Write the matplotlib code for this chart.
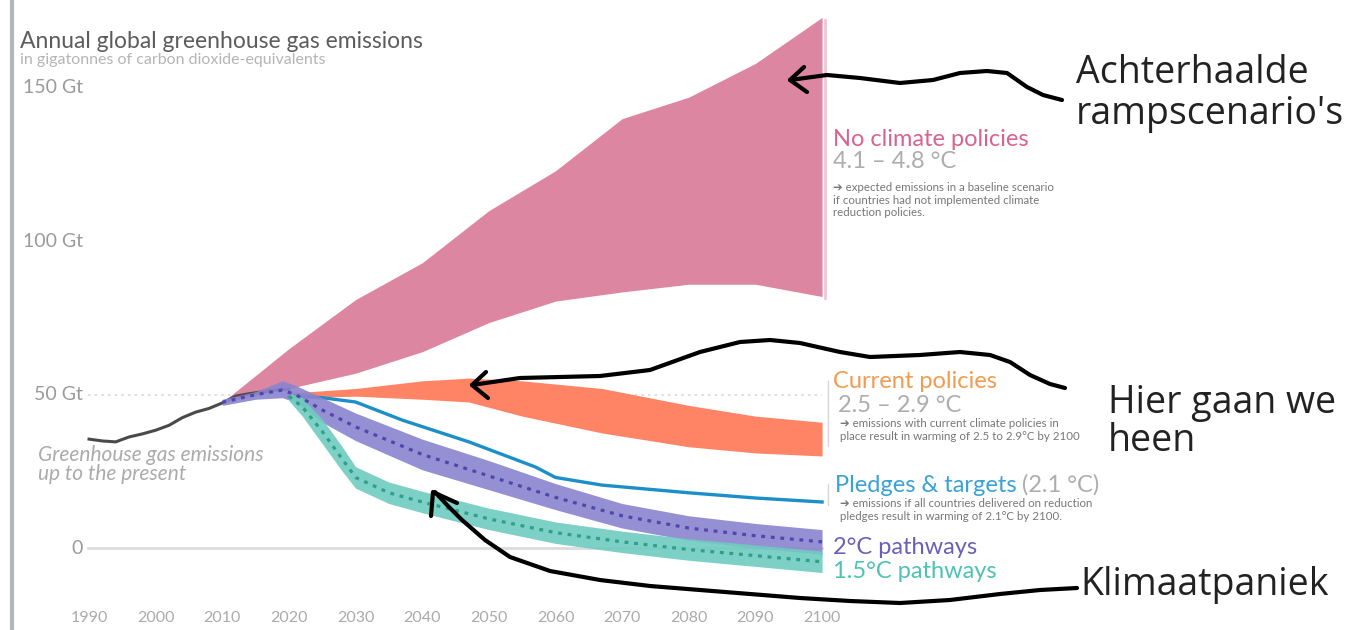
import matplotlib
matplotlib.use("Agg")
import matplotlib.pyplot as plt

W, H = 1352, 630

# ----------------------------------------------------------------------------- data (Gt CO2e)
hist_years = [1990, 1992, 1994, 1996, 1998, 2000, 2002, 2004, 2006, 2008, 2010, 2012, 2014, 2016, 2018, 2020]
hist_vals  = [35.5, 34.9, 34.6, 36.2, 37.2, 38.4, 40.0, 42.5, 44.3, 45.5, 47.3, 49.5, 50.3, 50.9, 51.5, 51.8]

nopol_years = [2010, 2020, 2030, 2040, 2050, 2060, 2070, 2080, 2090, 2100]
nopol_low   = [47.5, 52.0, 57.0, 64.0, 73.5, 80.5, 83.5, 86.0, 86.0, 82.0]
nopol_high  = [47.5, 65.0, 81.0, 93.0, 110.0, 123.0, 140.0, 147.0, 158.0, 173.0]

cur_years = [2020, 2030, 2040, 2047, 2055, 2067, 2080, 2090, 2100]
cur_low   = [49.0, 49.5, 48.5, 47.6, 43.0, 37.5, 33.0, 31.0, 30.0]
cur_high  = [50.5, 52.0, 54.5, 55.4, 54.5, 52.0, 46.5, 43.0, 41.0]

pledge_years = [2020, 2025, 2030, 2037, 2047, 2057, 2060, 2067, 2080, 2090, 2100]
pledge_vals  = [49.5, 49.0, 47.6, 41.7, 34.6, 26.4, 23.0, 20.5, 18.0, 16.3, 15.0]

p2_years = [2010, 2015, 2019, 2021, 2025, 2030, 2040, 2050, 2060, 2070, 2080, 2090, 2100]
p2_mid   = [47.5, 50.0, 51.5, 50.0, 45.0, 39.5, 30.5, 23.5, 16.5, 10.5, 6.5, 4.0, 2.0]
p2_low   = [46.5, 48.5, 49.0, 47.5, 41.0, 35.0, 25.5, 19.0, 12.5, 6.5, 2.5, 0.0, -2.0]
p2_high  = [48.5, 51.0, 54.5, 53.0, 49.0, 44.0, 35.5, 28.5, 21.0, 14.5, 10.5, 8.0, 6.0]

p15_years = [2020, 2022, 2025, 2028, 2030, 2035, 2040, 2050, 2060, 2070, 2080, 2090, 2100]
p15_mid   = [49.5, 46.0, 38.0, 29.0, 23.0, 18.0, 15.0, 9.5, 5.0, 2.0, -0.5, -2.5, -4.5]
p15_low   = [48.0, 43.0, 34.0, 25.0, 19.5, 14.5, 11.5, 6.0, 1.5, -1.5, -4.0, -6.0, -8.0]
p15_high  = [50.5, 49.0, 42.0, 33.0, 26.5, 21.5, 18.5, 13.0, 8.5, 5.5, 3.0, 1.0, -1.0]

x_ticks = [1990, 2000, 2010, 2020, 2030, 2040, 2050, 2060, 2070, 2080, 2090, 2100]
y_ticks = [150, 100, 50, 0]
y_labels = ["150 Gt", "100 Gt", "50 Gt", "0"]

# hand drawn overlay (pixel coords of the screenshot)
arrow_top = [(1062, 100), (1043, 95), (1027, 87), (1007, 73), (987, 71), (960, 73), (933, 80),
             (900, 83), (860, 78), (827, 75), (790, 80)]
head_top = [(804, 67), (790, 80), (807, 92)]
arrow_mid = [(1065, 388), (1050, 384), (1030, 375), (1010, 362), (990, 355), (960, 352), (920, 355),
             (870, 357), (840, 352), (800, 343), (770, 340), (740, 342), (700, 352), (650, 370),
             (600, 376), (520, 378), (472, 385)]
head_mid = [(486, 372), (472, 385), (488, 398)]
arrow_low = [(1077, 588), (1040, 590), (1000, 594), (950, 600), (900, 603), (850, 601), (800, 598),
             (750, 594), (700, 590), (650, 586), (600, 580), (550, 571), (510, 557), (485, 540),
             (462, 520), (447, 505), (435, 492)]
head_low = [(457, 503), (433, 492), (431, 516)]

# ----------------------------------------------------------------------------- pixel <-> data
X0, PXY = 1976.64, 6.664       # year at pixel 0, pixels per year
Y0, PGT = 548.0, 3.067         # pixel row of 0 Gt, pixels per Gt
dx = lambda px: X0 + px / PXY
dy = lambda py: (Y0 - py) / PGT

plt.rcParams["font.family"] = ["Lato", "DejaVu Sans"]
fig = plt.figure(figsize=(W / 100, H / 100), dpi=100)
ax = fig.add_axes([0, 0, 1, 1])
ax.set_xlim(dx(0), dx(W))
ax.set_ylim(dy(H), dy(0))
ax.axis("off")

GRAY = "#9a9a9a"

# axis furniture
ax.plot([dx(12), dx(12)], [dy(0), dy(H)], color="#b3b6bd", lw=3, solid_capstyle="butt")
ax.plot([dx(88), 2100], [0, 0], color="#dcdcdc", lw=2, zorder=0)
ax.plot([dx(88), 2100], [50, 50], color="#d9d9d9", lw=1.2, ls=(0, (1.5, 2.5)), zorder=0)
for v, lab in zip(y_ticks, y_labels):
    ax.text(dx(83), v, lab, ha="right", va="center", fontsize=14, color=GRAY)
for yr in x_ticks:
    ax.text(yr, dy(618), str(yr), ha="center", va="center", fontsize=11.5, color="#aaaaaa")

# scenarios
ax.fill_between(nopol_years, nopol_low, nopol_high, color="#dd86a1", lw=0, zorder=2)
ax.fill_between(cur_years, cur_low, cur_high, color="#ff8466", lw=0, zorder=2)
ax.plot(hist_years, hist_vals, color="#4a4a4a", lw=2.2, zorder=3)
ax.plot(pledge_years, pledge_vals, color="#1c8ec8", lw=2.4, zorder=4)
ax.fill_between(p2_years, p2_low, p2_high, color="#8a84cf", alpha=0.9, lw=0, zorder=5)
ax.plot(p2_years, p2_mid, color="#4f47ad", lw=2.3, ls=(0, (1.2, 1.8)), zorder=6)
ax.fill_between(p15_years, p15_low, p15_high, color="#6fcbbf", alpha=0.9, lw=0, zorder=5)
ax.plot(p15_years, p15_mid, color="#2f9f86", lw=2.3, ls=(0, (1.2, 1.8)), zorder=6)

# bracket lines next to the labels
ax.plot([dx(825), dx(825)], [dy(20), dy(298)], color="#f2c4d3", lw=2)
ax.plot([dx(828), dx(828)], [dy(381), dy(446)], color="#d6d6d6", lw=1)
ax.plot([dx(828), dx(828)], [dy(484), dy(505)], color="#d6d6d6", lw=1)

# titles and labels (pixel positions)
def ptext(px, py, s, **kw):
    kw.setdefault("va", "center")
    return fig.text(px / W, 1 - py / H, s, **kw)

ptext(20, 42, "Annual global greenhouse gas emissions", fontsize=16.5, color="#5c5c5c")
ptext(20, 60, "in gigatonnes of carbon dioxide-equivalents", fontsize=11.5, color="#b5b5b5")
ptext(38, 455, "Greenhouse gas emissions", fontsize=15, style="italic", color="#ababab")
ptext(38, 474, "up to the present", fontsize=15, style="italic", color="#ababab")

LAB = 17
SMALL = dict(fontsize=8.3, color="#777777", linespacing=1.15)
ptext(833, 139, "No climate policies", fontsize=LAB, color="#d9638f")
ptext(833, 161, "4.1 – 4.8 °C", fontsize=LAB, color="#adadad")
ptext(833, 200, "➔ expected emissions in a baseline scenario\nif countries had not implemented climate\nreduction policies.", **SMALL)

ptext(833, 382, "Current policies", fontsize=LAB, color="#f39b4e")
ptext(838, 405, "2.5 – 2.9 °C", fontsize=LAB, color="#adadad")
ptext(840, 430, "➔ emissions with current climate policies in\nplace result in warming of 2.5 to 2.9°C by 2100", **SMALL)

t = ptext(835, 485, "Pledges & targets", fontsize=LAB, color="#3aa2d6")
fig.canvas.draw()
bb = t.get_window_extent()
ptext(bb.x1 + 5, 485, "(2.1 °C)", fontsize=LAB, color="#adadad")
ptext(840, 510, "➔ emissions if all countries delivered on reduction\npledges result in warming of 2.1°C by 2100.", **SMALL)

ptext(833, 548, "2°C pathways", fontsize=LAB, color="#6961b9")
ptext(833, 571, "1.5°C pathways", fontsize=LAB, color="#4ec2b4")

# hand written overlay
HAND = dict(fontsize=27, color="#222222", family=["Open Sans", "DejaVu Sans"])
ptext(1076, 73, "Achterhaalde", **HAND)
ptext(1076, 114, "rampscenario's", **HAND)
ptext(1108, 403, "Hier gaan we", **HAND)
ptext(1108, 441, "heen", **HAND)
ptext(1080, 585, "Klimaatpaniek", **HAND)

for path in (arrow_top, head_top, arrow_mid, head_mid, arrow_low, head_low):
    ax.plot([dx(p[0]) for p in path], [dy(p[1]) for p in path], color="black", lw=3,
            solid_capstyle="round", solid_joinstyle="round", zorder=10)

fig.savefig("out.png", dpi=100)
